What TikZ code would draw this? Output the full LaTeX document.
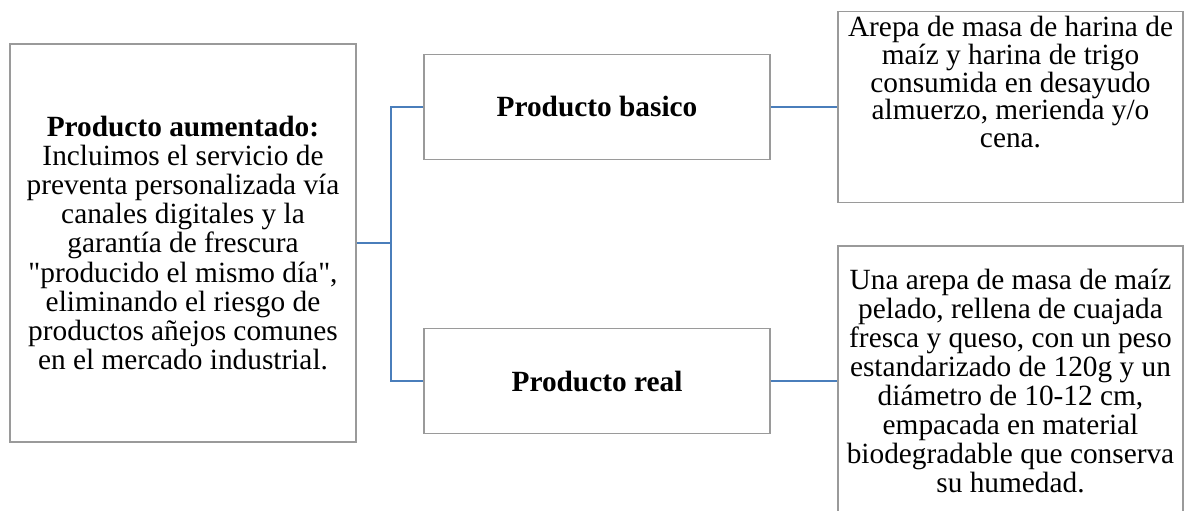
\documentclass[tikz,border=0pt]{standalone}
\usepackage{fontspec}
\setmainfont{Liberation Serif}[Ligatures=TeXOff]
\definecolor{boxgray}{HTML}{9A9A9A}
\definecolor{linkblue}{HTML}{4A7EBB}
\begin{document}
\begin{tikzpicture}[x=0.75pt,y=-0.75pt,
  box/.style={draw=boxgray,line width=1.1pt,fill=white,rectangle,inner sep=0pt},
  txt/.style={align=center,inner sep=0pt,font=\fontsize{22}{21.8}\selectfont},
  link/.style={draw=linkblue,line width=2.1pt}]
  \useasboundingbox (0,0) rectangle (1184,510);
  \begin{scope}
  \clip (0,0) rectangle (1184,510);
  % left block
  \node[box,txt,minimum width=346*0.75pt,minimum height=398*0.75pt] (aug) at (183,243)
    {\textbf{Producto aumentado:}\\Incluimos el servicio de\\preventa personalizada vía\\canales digitales y la\\garantía de frescura\\"producido el mismo día",\\eliminando el riesgo de\\productos añejos comunes\\en el mercado industrial.};
  % middle blocks
  \node[box,txt,minimum width=346*0.75pt,minimum height=105*0.75pt] (basic) at (597,107)
    {\textbf{Producto basico}};
  \node[box,txt,minimum width=346*0.75pt,minimum height=105*0.75pt] (real) at (597,381)
    {\textbf{Producto real}};
  % right blocks
  \node[box,minimum width=345*0.75pt,minimum height=191*0.75pt] (descb) at (1010.5,107) {};
  \node[txt,anchor=north,font=\fontsize{22}{20.8}\selectfont] (descbtxt) at ([yshift=-4pt]descb.north)
    {Arepa de masa de harina de\\maíz y harina de trigo\\consumida en desayudo\\almuerzo, merienda y/o\\cena.};
  \node[box,txt,minimum width=345*0.75pt,minimum height=270*0.75pt] (descr) at (1010.5,381)
    {Una arepa de masa de maíz\\pelado, rellena de cuajada\\fresca y queso, con un peso\\estandarizado de 120g y un\\diámetro de 10-12 cm,\\empacada en material\\biodegradable que conserva\\su humedad.};
  \end{scope}
  % connectors
  \coordinate (j) at (391,243);
  \draw[link] (aug.east) -- (j);
  \draw[link] (basic.west) -| (j);
  \draw[link] (real.west) -| (j);
  \draw[link] (basic.east) -- (descb.west);
  \draw[link] (real.east) -- (descr.west);
\end{tikzpicture}
\end{document}
